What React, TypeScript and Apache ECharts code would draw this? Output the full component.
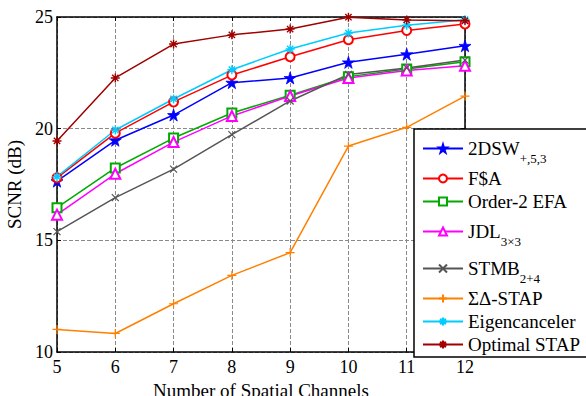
import React, { useEffect, useRef } from "react";
import * as echarts from "echarts";

// Number of spatial channels (x axis)
const channels = [5, 6, 7, 8, 9, 10, 11, 12];

// SCNR in dB for each method
const dsw = [17.65, 19.48, 20.61, 22.06, 22.27, 22.97, 23.33, 23.71];
const fsa = [17.8, 19.8, 21.2, 22.4, 23.22, 23.98, 24.4, 24.69];
const efa = [16.46, 18.24, 19.58, 20.7, 21.5, 22.33, 22.67, 23.0];
const jdl = [16.15, 17.98, 19.4, 20.57, 21.46, 22.27, 22.6, 22.82];
const stmb = [15.39, 16.91, 18.19, 19.73, 21.24, 22.43, 22.72, 23.07];
const sigmaDelta = [11.01, 10.83, 12.16, 13.43, 14.45, 19.22, 20.06, 21.46];
const eigen = [17.85, 19.94, 21.33, 22.64, 23.57, 24.28, 24.63, 24.88];
const optimal = [19.45, 22.27, 23.79, 24.2, 24.46, 24.99, 24.87, 24.83];

// Legend labels: main text and subscript
const methodNames = ["2DSW", "F$A", "Order-2 EFA", "JDL", "STMB", "ΣΔ-STAP", "Eigencanceler", "Optimal STAP"];
const methodSubs = ["+,5,3", "", "", "3×3", "2+4", "", "", ""];

const xTicks = { min: 5, max: 12, interval: 1 };
const yTicks = { min: 10, max: 25, interval: 5 };

const FONT = "Tinos";

const STAR = "path://M50,0 L61.2,34.5 L97.6,34.5 L68.2,55.9 L79.4,90.5 L50,69.1 L20.6,90.5 L31.8,55.9 L2.4,34.5 L38.8,34.5 Z";
const PLUS = "path://M0,5 L10,5 M5,0 L5,10";
const CROSS = "path://M0,0 L10,10 M10,0 L0,10";
const ASTERISK = "path://M0,5 L10,5 M5,0 L5,10 M1.5,1.5 L8.5,8.5 M8.5,1.5 L1.5,8.5";

const seriesDefs = [
  { values: dsw, color: "#0000ff", symbol: STAR, size: 12, border: 0.8 },
  { values: fsa, color: "#ff0000", symbol: "emptyCircle", size: 9, border: 1.3 },
  { values: efa, color: "#00aa00", symbol: "emptyRect", size: 9, border: 1.3 },
  { values: jdl, color: "#ff00ff", symbol: "emptyTriangle", size: 10, border: 1.3 },
  { values: stmb, color: "#555555", symbol: CROSS, size: 7, border: 1.2 },
  { values: sigmaDelta, color: "#ff8000", symbol: PLUS, size: 9, border: 1.2 },
  { values: eigen, color: "#00ccff", symbol: ASTERISK, size: 9, border: 1.4 },
  { values: optimal, color: "#a00000", symbol: ASTERISK, size: 9, border: 1.4 },
];

export default function App() {
  const ref = useRef<HTMLDivElement>(null);

  useEffect(() => {
    if (!ref.current) return;
    const chart = echarts.init(ref.current, null, { renderer: "svg" });

    const names = methodNames.map((n, i) => n + methodSubs[i]);

    const axisCommon = {
      axisLine: { show: true, lineStyle: { color: "#000", width: 1.5 } },
      axisTick: { show: true, inside: true, length: 4, lineStyle: { color: "#000", width: 1 } },
    };

    chart.setOption({
      animation: false,
      textStyle: { fontFamily: FONT },
      grid: {
        left: 57,
        top: 17,
        width: 408,
        height: 335,
        outerBoundsMode: "none",
      },
      xAxis: [
        {
          type: "value",
          ...xTicks,
          ...axisCommon,
          name: "Number of Spatial Channels",
          nameLocation: "middle",
          nameGap: 24,
          nameTextStyle: { fontFamily: FONT, fontSize: 19, color: "#000" },
          axisLabel: { fontFamily: FONT, fontSize: 18, color: "#000", margin: 6 },
          splitLine: { show: true, lineStyle: { color: "#8a8a8a", width: 1, type: "dashed" } },
        },
        {
          type: "value",
          position: "top",
          ...xTicks,
          ...axisCommon,
          axisLabel: { show: false },
          splitLine: { show: false },
        },
      ],
      yAxis: [
        {
          type: "value",
          ...yTicks,
          ...axisCommon,
          name: "SCNR (dB)",
          nameLocation: "middle",
          nameGap: 30,
          nameTextStyle: { fontFamily: FONT, fontSize: 19, color: "#000" },
          axisLabel: { fontFamily: FONT, fontSize: 18, color: "#000", margin: 4 },
          splitLine: { show: true, lineStyle: { color: "#8a8a8a", width: 1, type: "dashed" } },
        },
        {
          type: "value",
          position: "right",
          ...yTicks,
          ...axisCommon,
          axisLabel: { show: false },
          splitLine: { show: false },
        },
      ],
      legend: {
        orient: "vertical",
        left: 414,
        top: 129,
        padding: [3, 20, 3, 8],
        itemGap: 4,
        itemWidth: 40,
        itemHeight: 10,
        backgroundColor: "#fff",
        borderColor: "#000",
        borderWidth: 1.5,
        borderRadius: 0,
        data: names,
        formatter: (name: string) => {
          const i = names.indexOf(name);
          if (methodSubs[i]) return `{bs|${methodNames[i]}}{s|${methodSubs[i]}}`;
          return `{b|${methodNames[i]}}`;
        },
        textStyle: {
          fontFamily: FONT,
          fontSize: 19,
          color: "#000",
          rich: {
            b: { fontFamily: FONT, fontSize: 19, color: "#000", lineHeight: 22 },
            bs: { fontFamily: FONT, fontSize: 19, color: "#000", lineHeight: 26 },
            s: { fontFamily: FONT, fontSize: 13, color: "#000", lineHeight: 26, padding: [20, 0, 0, 0] },
          },
        },
      },
      series: seriesDefs.map((d, i) => ({
        name: names[i],
        type: "line",
        data: channels.map((c, j) => [c, d.values[j]]),
        symbol: d.symbol,
        symbolSize: d.size,
        showAllSymbol: true,
        lineStyle: { color: d.color, width: 1.5 },
        itemStyle: { color: d.color, borderColor: d.color, borderWidth: d.border },
      })),
    });

    return () => chart.dispose();
  }, []);

  return (
    <div
      ref={ref}
      style={{
        position: "fixed",
        left: 0,
        top: 0,
        width: 586,
        height: 396,
        background: "#fff",
        fontFamily: "Tinos, serif",
      }}
    />
  );
}
